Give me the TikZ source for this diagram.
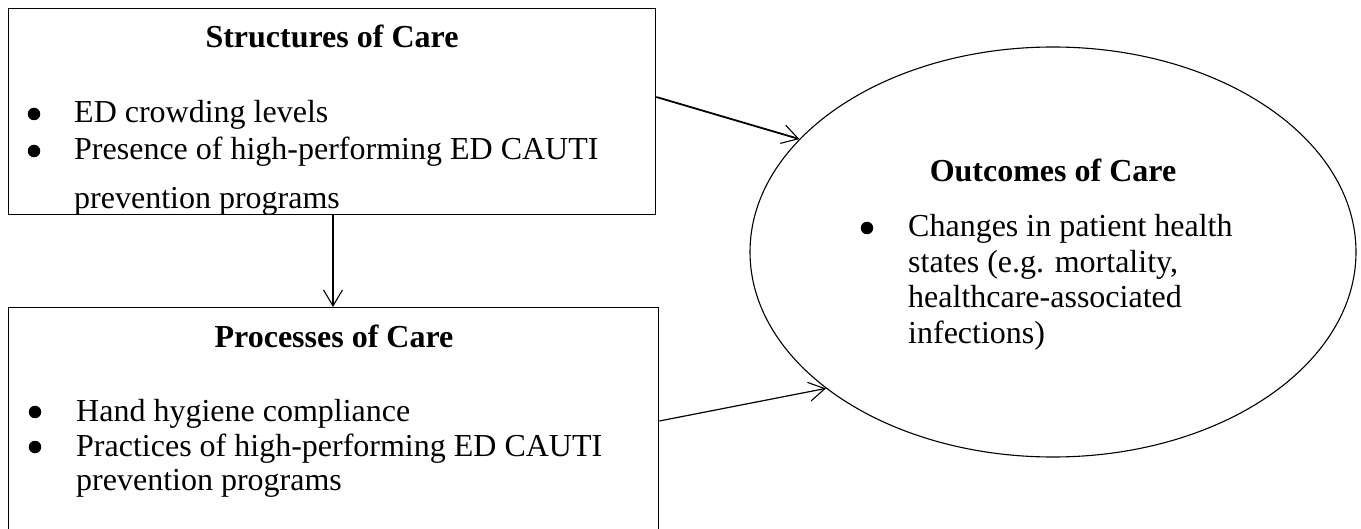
\documentclass[tikz,border=0pt]{standalone}
\usepackage{fontspec}
\setmainfont{Liberation Serif}
\usetikzlibrary{arrows.meta,shapes.geometric,calc}
\begin{document}
\begin{tikzpicture}[x=1pt,y=-1pt,
  frame/.style={draw, line width=1.3pt, rectangle, inner sep=0pt, anchor=north west},
  oval/.style={draw, line width=1.1pt, ellipse, inner sep=0pt},
  arr/.style={line width=1.2pt, -{Straight Barb[length=16pt,width=19pt,line width=1.1pt]}},
  ttl/.style={font=\fontsize{32}{36}\selectfont\bfseries, inner sep=0pt, anchor=base},
  txt/.style={font=\fontsize{32}{35}\selectfont, inner sep=0pt, anchor=base west},
  dot/.style={circle, fill, inner sep=0pt, minimum size=12.5pt}]
\useasboundingbox (0,0) rectangle (1361,529);
% boxes
\node[frame, minimum width=647pt, minimum height=206pt] (s) at (8,8) {};
\node[frame, minimum width=650pt, minimum height=235pt] (p) at (8,307) {};
\node[oval, minimum width=606pt, minimum height=410pt] (o) at (1053,252) {};
% structures text (clipped by box)
\begin{scope}
\clip (s.north west) rectangle (s.south east);
\node[ttl] (st) at (332,48) {Structures of Care};
\node[dot] (sb1) at (34,114) {};
\node[dot] (sb2) at (34,151) {};
\node[txt] (s1) at (74,123) {ED crowding levels};
\node[txt] (s2) at (74,160) {Presence of high-performing ED CAUTI};
\node[txt] (s3) at (74,209) {prevention programs};
\end{scope}
% processes text
\node[ttl] (pt) at (334,348) {Processes of Care};
\node[dot] (pb1) at (35,412) {};
\node[dot] (pb2) at (35,447) {};
\node[txt] (p1) at (76,421) {Hand hygiene compliance};
\node[txt] (p2) at (76,456) {\vtop{\hbox{Practices of high-performing ED CAUTI}\hbox{prevention programs}}};
% outcomes text
\node[ttl] (ot) at (1053,182) {Outcomes of Care};
\node[dot] (ob) at (867,228) {};
\node[txt, font=\fontsize{32}{35.5}\selectfont] (o1) at (908,237) {\vtop{\hbox{Changes in patient health}\hbox{states (e.g. mortality,}\hbox{healthcare-associated}\hbox{infections)}}};
% connectors
\draw[arr] (s.south -| 333,0) -- (p.north -| 333,0);
\draw[arr, line width=1.8pt] (s.east |- 0,97) -- (o.156.8);
\draw[arr] (p.east |- 0,421) -- (o.211.5);
\end{tikzpicture}
\end{document}
